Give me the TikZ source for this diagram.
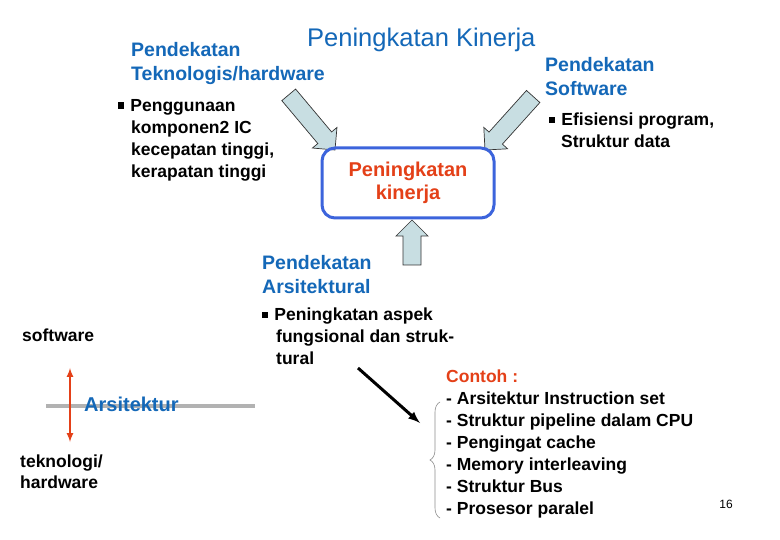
\documentclass[tikz,border=0pt]{standalone}
\usepackage{fontspec}
\setmainfont{Liberation Sans}
\usetikzlibrary{decorations.pathreplacing}
\definecolor{tblue}{RGB}{20,104,184}
\definecolor{tred}{RGB}{228,64,24}
\definecolor{afill}{RGB}{200,222,226}
\definecolor{boxblue}{RGB}{60,100,220}
\newcommand{\sqb}{\rule[0.15em]{0.35em}{0.35em}\hspace{0.35em}}
\newcommand{\blockarrow}[3]{% tip, angle, length
  \begin{scope}[shift={#1},rotate=#2]
  \draw[fill=afill,draw=black!80,line width=0.7pt] (0,0) -- (-16,16) -- (-16,9) -- (-#3,9) -- (-#3,-9) -- (-16,-9) -- (-16,-16) -- cycle;
  \end{scope}}
\begin{document}
\begin{tikzpicture}[x=1pt,y=-1pt,
  t/.style={anchor=west,inner sep=0pt,align=left,font=\bfseries\fontsize{17.5}{22}\selectfont},
  bt/.style={t,text=tblue,font=\bfseries\fontsize{19.5}{24}\selectfont},
  ]
\useasboundingbox[fill=white] (0,0) rectangle (780,540);
% block arrows
\blockarrow{(335,150)}{-50}{72}
\blockarrow{(485,150)}{-132}{72}
\blockarrow{(412,220)}{90}{45}
\node[draw=boxblue,line width=3pt,rounded corners=13pt,minimum width=172pt,minimum height=70pt] (box) at (408,183) {};
\node[inner sep=0pt,align=center,text=tred,font=\bfseries\fontsize{20}{23}\selectfont] (bl) at (408,183) {Peningkatan\\kinerja};
\node[bt,font=\fontsize{25.5}{28}\selectfont] (title) at (307,40) {Peningkatan Kinerja};
\node[bt] (tek) at (131,64) {Pendekatan\\Teknologis/hardware};
\node[bt] (sw) at (545,77) {Pendekatan\\Software};
\node[t] (b1) at (118,140) {\sqb Penggunaan\\\hspace{13pt}komponen2 IC\\\hspace{13pt}kecepatan tinggi,\\\hspace{13pt}kerapatan tinggi};
\node[t] (b2) at (549,130) {\sqb Efisiensi program,\\\hspace{12pt}Struktur data};
\node[bt] (ars) at (262,275) {Pendekatan\\Arsitektural};
\node[t] (b3) at (262,336) {\sqb Peningkatan aspek\\\hspace{14pt}fungsional dan struk-\\\hspace{14pt}tural};
\node[t] (swl) at (22,335) {software};
\node[t,font=\bfseries\fontsize{17.5}{21}\selectfont] (tk) at (20,472) {teknologi/\\hardware};
\coordinate (gl) at (46,406);
\coordinate (gr) at (255,406);
\draw[black!30,line width=3.5pt] (gl) -- (gr);
\coordinate (ua) at (70,368);
\coordinate (da) at (70,442);
\draw[tred,line width=2pt,<->,>=latex] (ua) -- (da);
\node[bt,font=\bfseries\fontsize{20}{24}\selectfont] (arsi) at (84,404) {Arsitektur};
\coordinate (ka) at (358,368);
\coordinate (kb) at (420,423);
\draw[line width=3pt,-latex] (ka) -- (kb);
\node[t,text=tred] (con) at (446,376) {Contoh :};
\node[t] (list) at (446,455) {- Arsitektur Instruction set\\- Struktur pipeline dalam CPU\\- Pengingat cache\\- Memory interleaving\\- Struktur Bus\\- Prosesor paralel};
\coordinate (bra) at (440,402);
\coordinate (brb) at (440,518);
\draw[black!45,line width=0.6pt,decorate,decoration={brace,amplitude=10pt,mirror}] (bra) -- (brb);
\node[inner sep=0pt,font=\fontsize{12}{14}\selectfont] (pg) at (726,504) {16};
\end{tikzpicture}
\end{document}
